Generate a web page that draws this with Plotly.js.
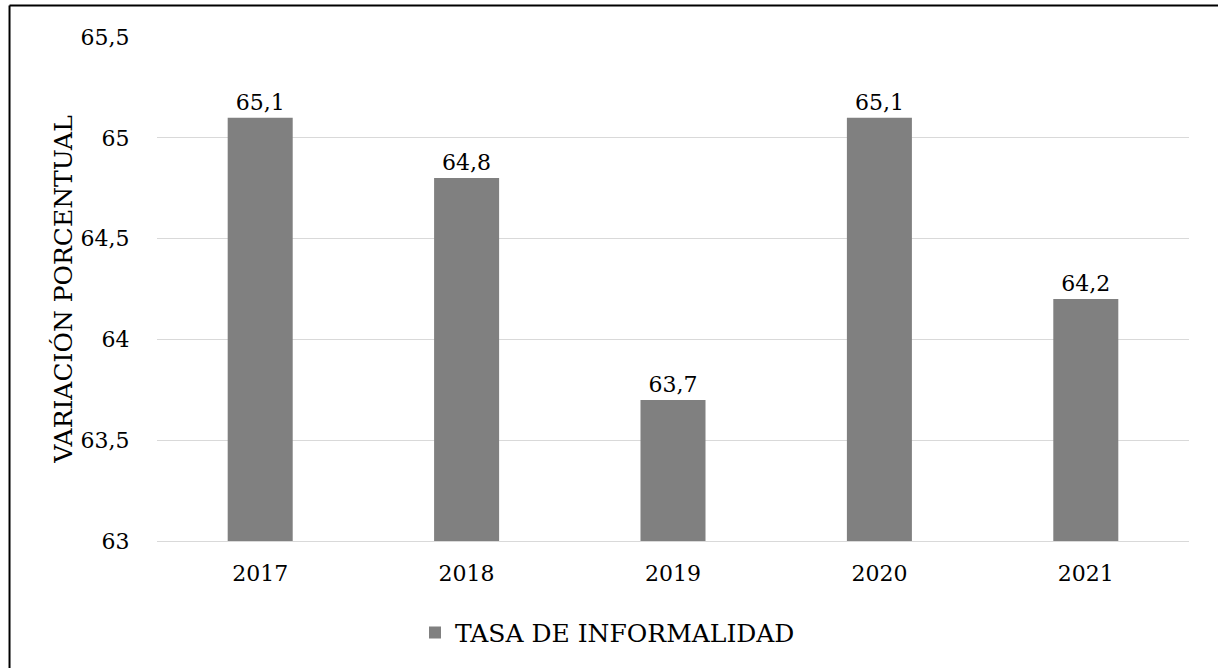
<!DOCTYPE html>
<html>
<head>
<meta charset="utf-8">
<script src="https://cdn.plot.ly/plotly-3.0.1.min.js"></script>
<style>html,body{margin:0;padding:0;background:#fff;}#chart{width:1218px;height:668px;}</style>
</head>
<body>
<div id="chart"></div>
<script>
const years = ['2017', '2018', '2019', '2020', '2021'];
const tasa = [65.1, 64.8, 63.7, 65.1, 64.2];
const seriesName = 'TASA DE INFORMALIDAD';
const yTitle = 'VARIACIÓN PORCENTUAL';

const FAM = 'DejaVu Serif';
const SZ = 22;

const trace = {
  type: 'bar',
  x: years,
  y: tasa,
  name: seriesName,
  marker: {color: '#808080'},
  texttemplate: '%{y:.1f}',
  textposition: 'outside',
  cliponaxis: false,
  textfont: {family: FAM, size: SZ, color: '#000'},
  hoverinfo: 'x+y'
};

const layout = {
  width: 1218,
  height: 668,
  margin: {l: 157, r: 29, t: 37, b: 125},
  paper_bgcolor: '#fff',
  plot_bgcolor: '#fff',
  separators: ',.',
  font: {family: FAM, size: SZ, color: '#000'},
  bargap: 0.685,
  showlegend: true,
  legend: {
    orientation: 'h', x: 0.25, xanchor: 'left', y: -0.182, yanchor: 'middle',
    font: {family: FAM, size: 25, color: '#000'}
  },
  xaxis: {
    type: 'category',
    showgrid: false,
    showline: true,
    linecolor: '#d9d9d9',
    linewidth: 1,
    ticks: 'outside',
    ticklen: 13,
    tickcolor: 'rgba(0,0,0,0)',
    tickfont: {family: FAM, size: SZ, color: '#000'}
  },
  yaxis: {
    range: [63, 65.5],
    dtick: 0.5,
    tick0: 63,
    showgrid: true,
    gridcolor: '#d9d9d9',
    gridwidth: 1,
    zeroline: false,
    showline: false,
    ticks: 'outside',
    ticklen: 22,
    tickcolor: 'rgba(0,0,0,0)',
    tickfont: {family: FAM, size: SZ, color: '#000'},
    title: {text: yTitle, font: {family: FAM, size: 25, color: '#000'}, standoff: 0}
  },
  shapes: [
    {type: 'line', xref: 'paper', yref: 'paper', x0: -0.1429, x1: 1.1, y0: 1.0623, y1: 1.0623, line: {color: '#000', width: 2}},
    {type: 'line', xref: 'paper', yref: 'paper', x0: -0.1429, x1: -0.1429, y0: 1.0623, y1: -0.3, line: {color: '#000', width: 2}}
  ]
};

Plotly.newPlot('chart', [trace], layout, {displayModeBar: false, staticPlot: true});
</script>
</body>
</html>
